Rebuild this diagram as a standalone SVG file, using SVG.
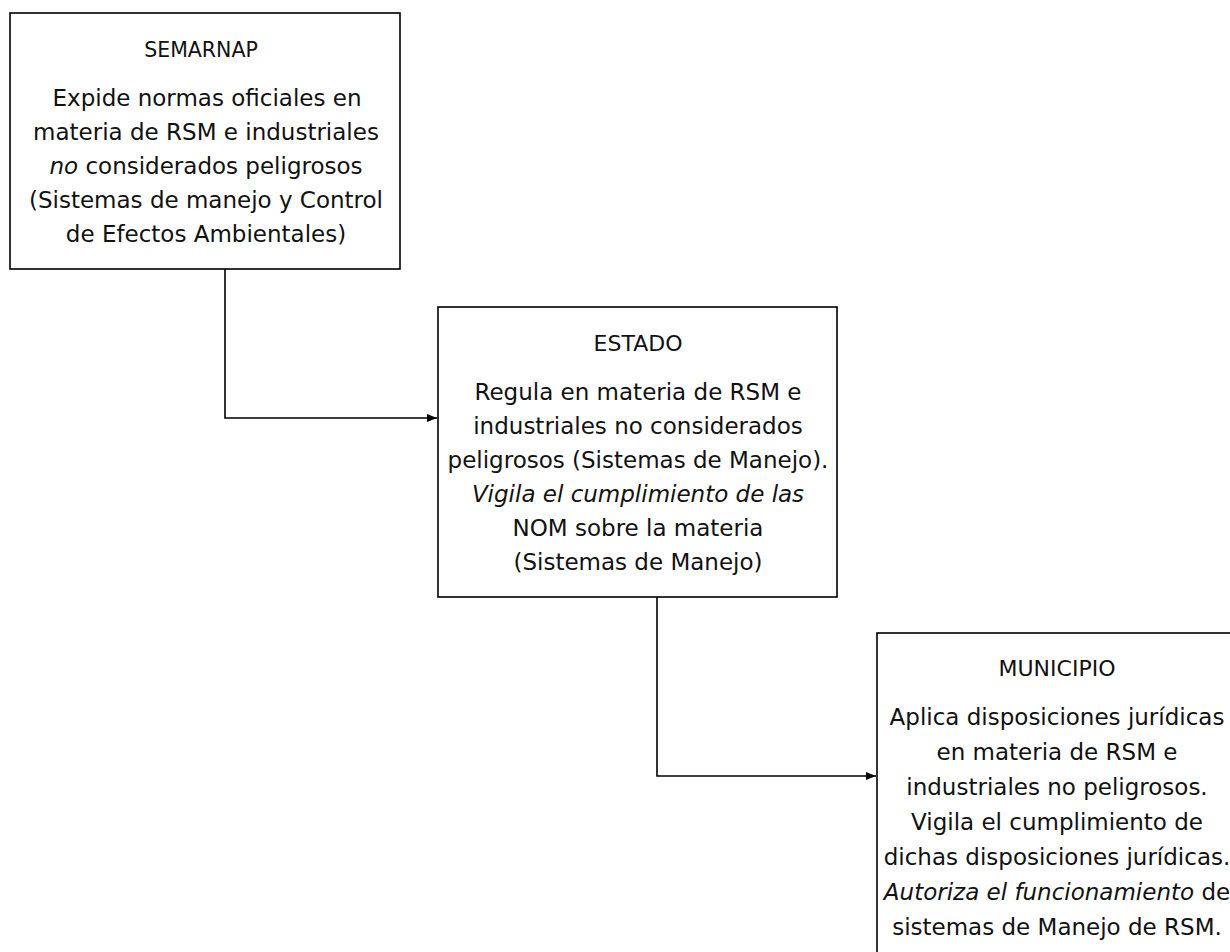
<svg xmlns="http://www.w3.org/2000/svg" width="1230" height="952" viewBox="0 0 1230 952">
<style>
  .box { fill: #ffffff; stroke: #000000; stroke-width: 1.6; }
  .t { font-family: "DejaVu Sans", Verdana, sans-serif; font-size: 23px; fill: #111111; text-anchor: middle; }
  .h { font-size: 22px; }
  .it { font-style: italic; }
  .conn { fill: none; stroke: #000000; stroke-width: 1.6; }
</style>
<defs>
  <marker id="arr" viewBox="0 0 10 8" refX="10" refY="4" markerWidth="10" markerHeight="8" markerUnits="userSpaceOnUse" orient="auto">
    <path d="M0,0 L10,4 L0,8 Z" fill="#000000"/>
  </marker>
</defs>
<rect width="1230" height="952" fill="#ffffff"/>

<g id="connectors">
  <path class="conn" d="M225,269 L225,418 L437,418" marker-end="url(#arr)"/>
  <path class="conn" d="M657,597 L657,776 L876,776" marker-end="url(#arr)"/>
</g>

<g id="semarnap">
  <rect class="box" x="10" y="13" width="390" height="256"/>
  <text class="t h" x="201" y="57" style="font-size:20.5px">SEMARNAP</text>
  <text class="t" x="207" y="106">Expide normas oficiales en</text>
  <text class="t" x="206" y="140">materia de RSM e industriales</text>
  <text class="t" x="206" y="174"><tspan class="it">no</tspan> considerados peligrosos</text>
  <text class="t" x="206" y="208">(Sistemas de manejo y Control</text>
  <text class="t" x="206" y="242">de Efectos Ambientales)</text>
</g>

<g id="estado">
  <rect class="box" x="438" y="307" width="399" height="290"/>
  <text class="t h" x="638" y="351">ESTADO</text>
  <text class="t" x="638" y="400">Regula en materia de RSM e</text>
  <text class="t" x="638" y="434">industriales no considerados</text>
  <text class="t" x="638" y="468">peligrosos (Sistemas de Manejo).</text>
  <text class="t it" x="638" y="502">Vigila el cumplimiento de las</text>
  <text class="t" x="638" y="536">NOM sobre la materia</text>
  <text class="t" x="638" y="570">(Sistemas de Manejo)</text>
</g>

<g id="municipio">
  <rect class="box" x="877" y="633" width="380" height="340"/>
  <text class="t h" x="1057" y="676">MUNICIPIO</text>
  <text class="t" x="1057" y="725">Aplica disposiciones jurídicas</text>
  <text class="t" x="1057" y="760">en materia de RSM e</text>
  <text class="t" x="1057" y="795">industriales no peligrosos.</text>
  <text class="t" x="1057" y="830">Vigila el cumplimiento de</text>
  <text class="t" x="1057" y="865">dichas disposiciones jurídicas.</text>
  <text class="t" x="1057" y="900"><tspan class="it">Autoriza el funcionamiento</tspan> de</text>
  <text class="t" x="1057" y="935">sistemas de Manejo de RSM.</text>
</g>
</svg>
